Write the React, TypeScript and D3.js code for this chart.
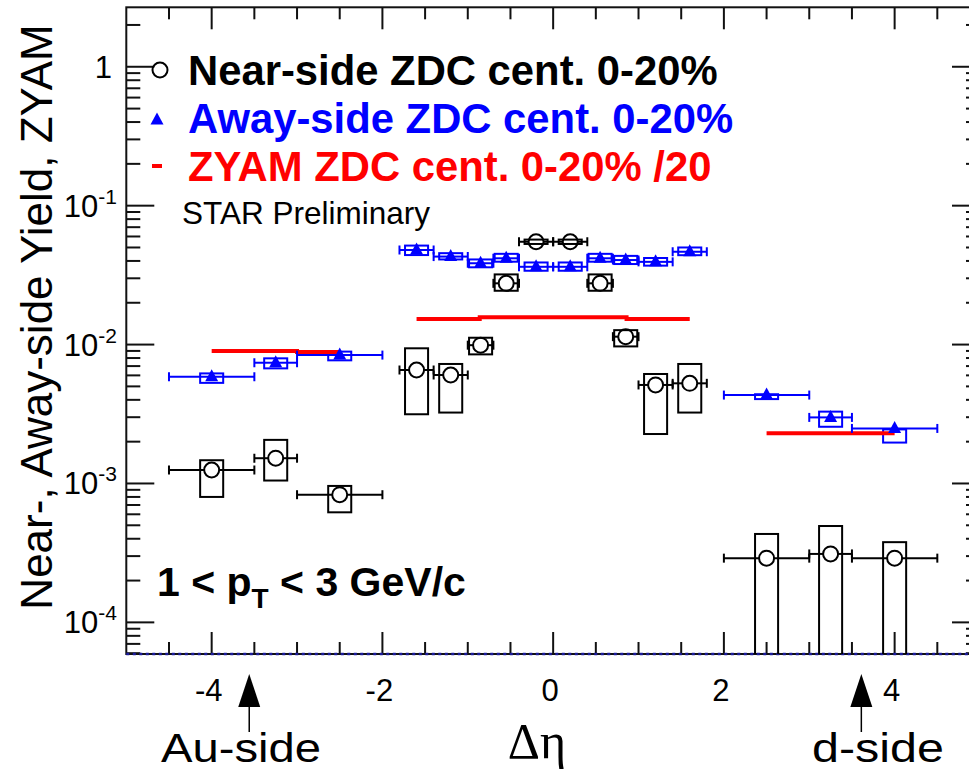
import { scaleLinear, scaleLog, range, line, curveStepAfter } from "d3";

// bins in delta-eta (near and away share them)
const binCenter = [-4, -3.25, -2.5, -1.6, -1.2, -0.85, -0.55, -0.2, 0.2, 0.55, 0.85, 1.2, 1.6, 2.5, 3.25, 4.0];
const binLo = [-4.5, -3.5, -3.0, -1.8, -1.4, -1.0, -0.7, -0.4, 0, 0.4, 0.7, 1.0, 1.4, 2.0, 3.0, 3.5];
const binHi = [-3.5, -3.0, -2.0, -1.4, -1.0, -0.7, -0.4, 0, 0.4, 0.7, 1.0, 1.4, 1.8, 3.0, 3.5, 4.5];

// near-side yield + systematics
const nearY = [1.25e-3, 1.52e-3, 8.3e-4, 6.56e-3, 6.04e-3, 9.9e-3, 0.0276, 0.055, 0.055, 0.0276, 0.0114, 5.12e-3, 5.26e-3, 2.9e-4, 3.11e-4, 2.9e-4];
const nearSysHi = [1.47e-3, 2.06e-3, 9.6e-4, 9.4e-3, 7.25e-3, 0.0112, 0.032, 0.057, 0.057, 0.032, 0.0127, 6.14e-3, 7.25e-3, 4.33e-4, 4.94e-4, 3.78e-4];
const nearSysLo = [8.0e-4, 1.05e-3, 6.2e-4, 3.15e-3, 3.24e-3, 8.5e-3, 0.0244, 0.053, 0.053, 0.0244, 9.7e-3, 2.27e-3, 3.24e-3, 1e-5, 1e-5, 1e-5];

// away-side yield + systematics
const awayY = [5.86e-3, 7.4e-3, 8.4e-3, 0.0479, 0.043, 0.0385, 0.0418, 0.0363, 0.0363, 0.0418, 0.0406, 0.0394, 0.0466, 4.33e-3, 2.99e-3, 2.49e-3];
const awaySysHi = [6.2e-3, 7.96e-3, 8.9e-3, 0.0516, 0.0455, 0.041, 0.045, 0.039, 0.039, 0.045, 0.0435, 0.042, 0.05, 4.39e-3, 3.29e-3, 2.45e-3];
const awaySysLo = [5.3e-3, 6.74e-3, 7.7e-3, 0.0441, 0.041, 0.036, 0.0395, 0.034, 0.034, 0.0395, 0.038, 0.037, 0.044, 4.05e-3, 2.56e-3, 1.97e-3];

// ZYAM level /20, drawn as steps
const zyamGroup = [0, 0, 1, 1, 1, 2];
const zyamX0 = [-4, -3, -1.6, -0.86, 0.86, 2.5];
const zyamX1 = [-3, -2.5, -0.86, 0.86, 1.6, 4.0];
const zyamY = [0.009, 0.00884, 0.01525, 0.0157, 0.01525, 0.0023];

const legendLabels = ["Near-side ZDC cent. 0-20%", "Away-side ZDC cent. 0-20%", "ZYAM ZDC cent. 0-20% /20"];
const legendColors = ["#000", "#0000ff", "#ff0000"];
const sideLabels = ["Au-side", "d-side"];
const sideX = [-3.56, 3.61];

const W = 969, H = 772;
const FONT = "'Liberation Sans', Arial, Helvetica, sans-serif";

export default function App() {
  const x = scaleLinear().domain([-5, 5]).range([126.3, 980]);
  const y = scaleLog().domain([5.92e-5, 2.68]).range([654, 7.3]);
  const [x0, x1] = x.range();
  const [yb, yt] = y.range();

  const yTicks = y.ticks();
  const xTicks = range(-4.5, 5, 0.5);
  const isMajorY = (v: number) => Math.abs(Math.log10(v) - Math.round(Math.log10(v))) < 1e-6;
  const isMajorX = (v: number) => Math.abs(v % 2) < 1e-6;

  const boxHalf = 0.135;
  const cap = 4.5;
  const r = 7.5;

  const tri = (cx: number, cy: number) => `M${cx},${cy - 7.5}L${cx + 6.5},${cy + 4.5}L${cx - 6.5},${cy + 4.5}Z`;

  const errBar = (i: number, val: number, color: string, gap: number) => {
    const cy = y(val), cx = x(binCenter[i]);
    const a = x(binLo[i]), b = x(binHi[i]);
    return (
      <g key={"e" + color + i} stroke={color} strokeWidth={2}>
        <line x1={a} x2={cx - gap} y1={cy} y2={cy} />
        <line x1={cx + gap} x2={b} y1={cy} y2={cy} />
        <line x1={a} x2={a} y1={cy - cap} y2={cy + cap} />
        <line x1={b} x2={b} y1={cy - cap} y2={cy + cap} />
      </g>
    );
  };

  const zyamLine = line<[number, number]>().x(d => x(d[0])).y(d => y(d[1])).curve(curveStepAfter);
  const groups = Array.from(new Set(zyamGroup));

  return (
    <svg width={W} height={H} style={{ position: "absolute", left: 0, top: 0, background: "#fff" }} fontFamily={FONT}>
      <defs>
        <clipPath id="frame">
          <rect x={x0} y={yt} width={x1 - x0} height={yb - yt} />
        </clipPath>
      </defs>
      <rect width={W} height={H} fill="#fff" />

      {/* ticks */}
      <g stroke="#111" strokeWidth={2}>
        {yTicks.map((v, i) => {
          const L = isMajorY(v) ? 28 : 14;
          return (
            <g key={"yt" + i}>
              <line x1={x0} x2={x0 + L} y1={y(v)} y2={y(v)} />
              <line x1={x1} x2={x1 - L} y1={y(v)} y2={y(v)} />
            </g>
          );
        })}
        {xTicks.map((v, i) => {
          const L = isMajorX(v) ? 22 : 12;
          return (
            <g key={"xt" + i}>
              <line x1={x(v)} x2={x(v)} y1={yb} y2={yb - L} />
              <line x1={x(v)} x2={x(v)} y1={yt} y2={yt + L} />
            </g>
          );
        })}
      </g>

      {/* frame */}
      <rect x={x0} y={yt} width={x1 - x0} height={yb - yt} fill="none" stroke="#111" strokeWidth={2} />
      <line x1={x0} x2={x1} y1={yb} y2={yb} stroke="#1c1c9c" strokeWidth={2.5} strokeDasharray="3 3.5" />

      {/* y tick labels */}
      {yTicks.filter(isMajorY).map((v, i) => {
        const e = Math.round(Math.log10(v));
        return e === 0 ? (
          <text key={"yl" + i} x={112} y={y(v) + 11} fontSize={31} textAnchor="end">1</text>
        ) : (
          <text key={"yl" + i} x={117} y={y(v) + 11} fontSize={31} textAnchor="end">
            10<tspan fontSize={21} dy={-13}>{e}</tspan>
          </text>
        );
      })}

      {/* x tick labels */}
      {xTicks.filter(isMajorX).map((v, i) => (
        <text key={"xl" + i} x={x(v) - 3} y={701} fontSize={31} textAnchor="middle">{v}</text>
      ))}

      {/* axis titles */}
      <text transform="translate(52,317) rotate(-90)" fontSize={44} textAnchor="middle">Near-, Away-side Yield, ZYAM</text>
      <text x={537} y={758} fontSize={50} textAnchor="middle" fontFamily="'Liberation Serif', 'Times New Roman', serif">Δη</text>

      {/* data */}
      <g clipPath="url(#frame)">
        {binCenter.map((c, i) => (
          <rect key={"nb" + i} x={x(c - boxHalf)} width={x(c + boxHalf) - x(c - boxHalf)}
            y={y(nearSysHi[i])} height={y(nearSysLo[i]) - y(nearSysHi[i])}
            fill="none" stroke="#000" strokeWidth={2} />
        ))}
        {binCenter.map((c, i) => (
          <rect key={"ab" + i} x={x(c - boxHalf)} width={x(c + boxHalf) - x(c - boxHalf)}
            y={y(awaySysHi[i])} height={y(awaySysLo[i]) - y(awaySysHi[i])}
            fill="none" stroke="#0000ff" strokeWidth={2} />
        ))}
        {groups.map(g => {
          const idx = zyamGroup.map((gg, i) => (gg === g ? i : -1)).filter(i => i >= 0);
          const pts: [number, number][] = idx.map(i => [zyamX0[i], zyamY[i]]);
          const last = idx[idx.length - 1];
          pts.push([zyamX1[last], zyamY[last]]);
          return <path key={"z" + g} d={zyamLine(pts) || ""} fill="none" stroke="#ff0000" strokeWidth={4} />;
        })}
        {binCenter.map((_, i) => errBar(i, awayY[i], "#0000ff", 0))}
        {binCenter.map((_, i) => errBar(i, nearY[i], "#000", r))}
        {binCenter.map((c, i) => (
          <path key={"at" + i} d={tri(x(c), y(awayY[i]))} fill="#0000ff" />
        ))}
        {binCenter.map((c, i) => (
          <circle key={"nc" + i} cx={x(c)} cy={y(nearY[i])} r={r} fill="none" stroke="#000" strokeWidth={2} />
        ))}
      </g>

      {/* legend */}
      <circle cx={160} cy={70} r={r} fill="none" stroke="#000" strokeWidth={2} />
      <path d={tri(157, 120)} fill="#0000ff" />
      <line x1={152} x2={162} y1={166} y2={166} stroke="#ff0000" strokeWidth={4} />
      {legendLabels.map((t, i) => (
        <text key={"lg" + i} x={188} y={84.5 + i * 48} fontSize={41.8} fontWeight="bold" fill={legendColors[i]}>{t}</text>
      ))}
      <text x={182} y={224} fontSize={31.5}>STAR Preliminary</text>
      <text x={157} y={596} fontSize={41} fontWeight="bold">
        1 &lt; p<tspan fontSize={28} dy={12}>T</tspan><tspan dy={-12}> &lt; 3 GeV/c</tspan>
      </text>

      {/* side arrows */}
      {sideX.map((v, i) => {
        const cx = x(v);
        return (
          <g key={"sa" + i}>
            <path d={`M${cx},674L${cx + 11},707L${cx - 11},707Z`} fill="#000" />
            <line x1={cx} x2={cx} y1={706} y2={732} stroke="#000" strokeWidth={1.5} />
          </g>
        );
      })}
      <text x={161} y={762} fontSize={41} textLength={160} lengthAdjust="spacingAndGlyphs">{sideLabels[0]}</text>
      <text x={812} y={762} fontSize={41} textLength={132} lengthAdjust="spacingAndGlyphs">{sideLabels[1]}</text>
    </svg>
  );
}
